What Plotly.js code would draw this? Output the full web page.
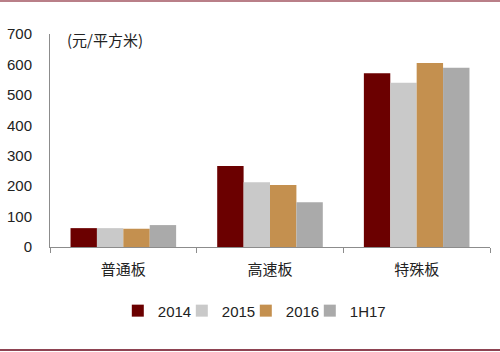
<!DOCTYPE html>
<html>
<head>
<meta charset="utf-8">
<script src="https://cdn.plot.ly/plotly-3.0.1.min.js"></script>
<style>
html,body{margin:0;padding:0;background:#fff;}
#wrap{position:relative;width:500px;height:352px;}
#chart{width:500px;height:352px;}
.line{position:absolute;left:0;width:500px;}
</style>
</head>
<body>
<div id="wrap">
<div id="chart"></div>
<div class="line" style="top:0;height:2px;background:#b97f88;"></div>
<div class="line" style="top:349px;height:2px;background:#8e4352;"></div>
</div>
<script>
const categories = ["普通板", "高速板", "特殊板"];
const seriesNames = ["2014", "2015", "2016", "1H17"];
const v2014 = [62, 266, 571];
const v2015 = [62, 213, 540];
const v2016 = [60, 204, 605];
const v1H17 = [72, 147, 589];
const yTicks = [0, 100, 200, 300, 400, 500, 600, 700];
const unitLabel = "(元/平方米)";

const colors = ["#6b0000", "#c9c9c9", "#c4904f", "#aaaaaa"];
const values = [v2014, v2015, v2016, v1H17];

const traces = seriesNames.map((n, i) => ({
  type: "bar",
  name: n,
  x: categories,
  y: values[i],
  marker: {color: colors[i], line: {width: 0}},
  hoverinfo: "skip"
}));

const layout = {
  width: 500,
  height: 352,
  margin: {l: 50, r: 10, t: 34, b: 105},
  paper_bgcolor: "#fff",
  plot_bgcolor: "#fff",
  bargap: 0.28,
  bargroupgap: 0,
  showlegend: true,
  legend: {
    orientation: "h",
    x: 0.445, xanchor: "center",
    y: -0.30, yanchor: "middle",
    bgcolor: "rgba(0,0,0,0)",
    font: {family: "Liberation Sans, Arial, sans-serif", size: 15, color: "#222"},
    entrywidth: 19,
    entrywidthmode: "pixels",
    itemwidth: 30,
    traceorder: "normal"
  },
  xaxis: {
    type: "category",
    showline: true,
    linecolor: "#8c8c8c",
    linewidth: 1,
    ticks: "outside",
    tickson: "boundaries",
    ticklen: 5,
    tickcolor: "#8c8c8c",
    showgrid: false,
    ticklabelstandoff: 9,
    tickfont: {family: "Noto Sans CJK SC, sans-serif", size: 15, color: "#222"},
    zeroline: false
  },
  yaxis: {
    range: [0, 700],
    tickvals: yTicks,
    showline: true,
    linecolor: "#8c8c8c",
    linewidth: 1,
    ticks: "",
    showgrid: false,
    zeroline: false,
    ticklabelstandoff: 14,
    tickfont: {family: "Liberation Sans, Arial, sans-serif", size: 15, color: "#222"}
  },
  annotations: [{
    text: unitLabel,
    xref: "paper", yref: "paper",
    x: 0.034, y: 0.972,
    xanchor: "left", yanchor: "middle",
    showarrow: false,
    font: {family: "Noto Sans CJK SC, sans-serif", size: 15, color: "#222"}
  }]
};

Plotly.newPlot("chart", traces, layout, {staticPlot: true, displayModeBar: false}).then(gd => {
  gd.querySelectorAll(".legend [clip-path], .legend[clip-path]").forEach(el => el.removeAttribute("clip-path"));
});
</script>
</body>
</html>
